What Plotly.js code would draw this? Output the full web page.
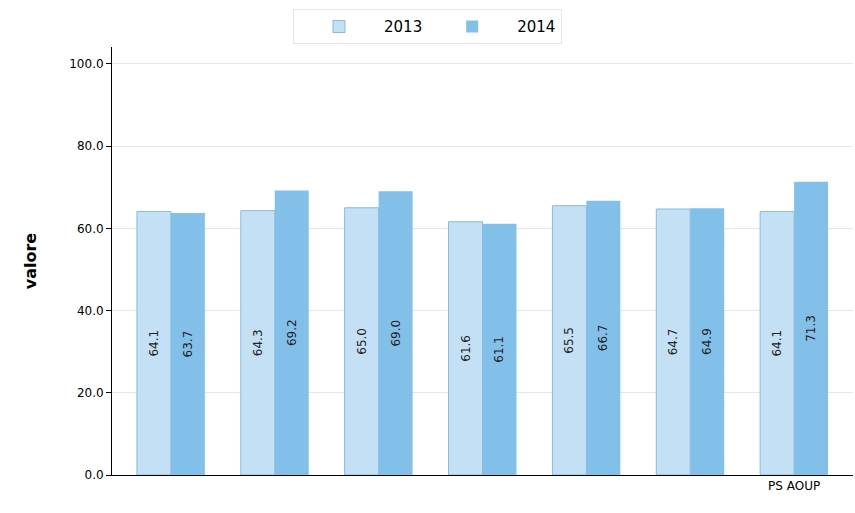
<!DOCTYPE html>
<html>
<head>
<meta charset="utf-8">
<script src="https://cdn.plot.ly/plotly-3.0.1.min.js"></script>
<style>html,body{margin:0;padding:0;background:#fff;}#chart{width:855px;height:513px;}</style>
</head>
<body>
<div id="chart"></div>
<script>
var categories = ['', '', '', '', '', '', 'PS AOUP'];
var values2013 = [64.1, 64.3, 65.0, 61.6, 65.5, 64.7, 64.1];
var values2014 = [63.7, 69.2, 69.0, 61.1, 66.7, 64.9, 71.3];
var yTicks = [0, 20, 40, 60, 80, 100];

var idx = categories.map(function(_, i){ return i; });
function fmt(v){ return v.toFixed(1); }

var common = {
  type: 'bar',
  x: idx,
  textposition: 'inside',
  insidetextanchor: 'middle',
  textangle: -90,
  textfont: {family: 'DejaVu Sans', size: 12, color: '#222222'},
  hoverinfo: 'none'
};

var t1 = Object.assign({}, common, {
  name: '2013',
  y: values2013,
  text: values2013.map(fmt),
  marker: {color: '#c3e0f5', line: {color: '#86bbe0', width: 1}}
});
var t2 = Object.assign({}, common, {
  name: '2014',
  y: values2014,
  text: values2014.map(fmt),
  marker: {color: '#82bfe9', line: {color: '#82bfe9', width: 0}}
});

var layout = {
  width: 855, height: 513,
  margin: {l: 112, r: 2, t: 47, b: 38},
  paper_bgcolor: '#ffffff', plot_bgcolor: '#ffffff',
  font: {family: 'DejaVu Sans', size: 12, color: '#000000'},
  barmode: 'group',
  bargap: 0.346,
  bargroupgap: 0,
  showlegend: true,
  legend: {
    orientation: 'h',
    x: 0.5, xref: 'container', xanchor: 'center',
    y: 0.982, yref: 'container', yanchor: 'top',
    font: {size: 15, color: '#000000'},
    bordercolor: '#e6e6e6', borderwidth: 1,
    itemwidth: 80,
    traceorder: 'normal'
  },
  xaxis: {
    range: [-0.567, 6.567],
    tickmode: 'array',
    tickvals: idx,
    ticktext: categories,
    showline: true, linecolor: '#000000', linewidth: 1,
    showgrid: false, zeroline: false,
    ticks: '',
    tickfont: {size: 12},
    fixedrange: true
  },
  yaxis: {
    range: [0, 104.1],
    tickmode: 'array',
    tickvals: yTicks,
    tickformat: '.1f',
    showline: true, linecolor: '#000000', linewidth: 1,
    ticks: 'outside', ticklen: 5, tickcolor: '#000000',
    showgrid: true, gridcolor: '#e6e6e6', gridwidth: 1,
    zeroline: false,
    tickfont: {size: 12, color: '#000000'},
    title: {text: '<b>valore</b>', font: {size: 16, color: '#000000'}, standoff: 28},
    fixedrange: true
  }
};

Plotly.newPlot('chart', [t1, t2], layout, {displayModeBar: false, staticPlot: true});
</script>
</body>
</html>
